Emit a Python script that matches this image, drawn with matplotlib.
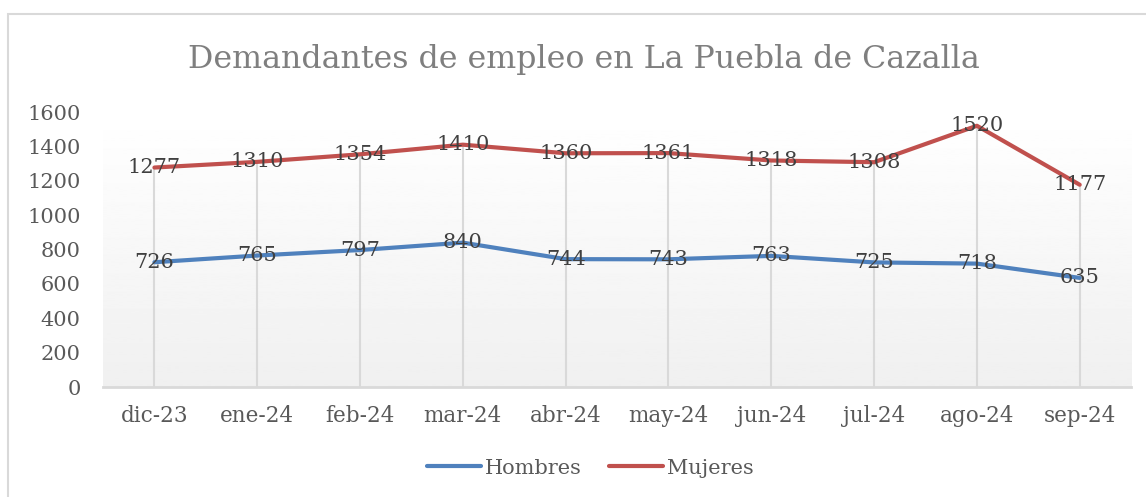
import numpy as np
import matplotlib.pyplot as plt
from matplotlib.patches import Rectangle

meses = ["dic-23", "ene-24", "feb-24", "mar-24", "abr-24", "may-24",
         "jun-24", "jul-24", "ago-24", "sep-24"]
hombres = [726, 765, 797, 840, 744, 743, 763, 725, 718, 635]
mujeres = [1277, 1310, 1354, 1410, 1360, 1361, 1318, 1308, 1520, 1177]

plt.rcParams['font.family'] = ['DejaVu Serif']

fig = plt.figure(figsize=(11.46, 4.97), dpi=100)
ax = fig.add_axes([0.0899, 0.2213, 0.8971, 0.5533])

x = np.arange(len(meses))

# degradado de fondo del area de trazado
grad = np.linspace(1.0, 0.94, 256).reshape(-1, 1)
ax.imshow(grad, cmap='gray', vmin=0, vmax=1, aspect='auto',
          extent=[-0.5, len(meses) - 0.5, 0, 1600], origin='upper', zorder=0)

# lineas de caida
tope = [max(h, m) for h, m in zip(hombres, mujeres)]
ax.vlines(x, 0, tope, color='#d9d9d9', lw=1.5, zorder=1)

azul = '#4f81bd'
rojo = '#c0504d'
ax.plot(x, hombres, color=azul, lw=3, solid_capstyle='round', label='Hombres', zorder=3)
ax.plot(x, mujeres, color=rojo, lw=3, solid_capstyle='round', label='Mujeres', zorder=3)

for xi, v in zip(x, hombres):
    ax.text(xi, v, str(v), ha='center', va='center', fontsize=15, color='#404040', zorder=4)
for xi, v in zip(x, mujeres):
    ax.text(xi, v, str(v), ha='center', va='center', fontsize=15, color='#404040', zorder=4)

ax.set_xlim(-0.5, len(meses) - 0.5)
ax.set_ylim(0, 1600)
ax.set_yticks(range(0, 1601, 200))
ax.set_xticks(x)
ax.set_xticklabels(meses)
ax.tick_params(axis='both', length=0, labelsize=15, labelcolor='#595959')
ax.tick_params(axis='x', pad=13, labelsize=15.5)
ax.tick_params(axis='y', pad=16)
for s in ['top', 'right', 'left']:
    ax.spines[s].set_visible(False)
ax.spines['bottom'].set_color('#d9d9d9')
ax.spines['bottom'].set_linewidth(2)

fig.text(0.5096, 0.88, "Demandantes de empleo en La Puebla de Cazalla",
         ha='center', va='center', fontsize=22.8, color='#7f7f7f')

fig.legend(loc='center', bbox_to_anchor=(0.515, 0.058), ncol=2, frameon=False,
           fontsize=15, labelcolor='#595959',
           handlelength=2.6, handletextpad=0.2, columnspacing=1.3)

# borde del grafico
fig.patches.append(Rectangle((8 / 1146, -0.1), 1.2, (497 - 14) / 497 + 0.1,
                             transform=fig.transFigure, fill=False,
                             edgecolor='#d9d9d9', lw=1.5))

fig.savefig('out.png', dpi=100)
